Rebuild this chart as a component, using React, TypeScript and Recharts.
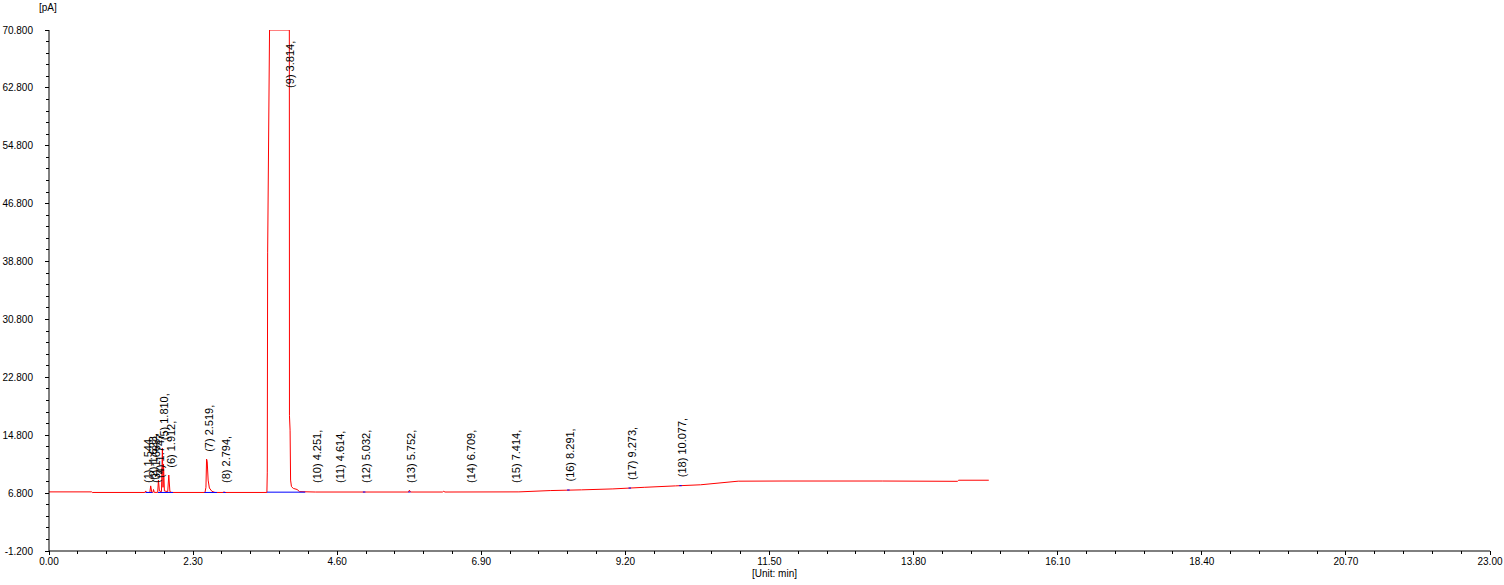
import { ComposedChart, Line, Scatter, XAxis, YAxis } from "recharts"

const FONT = "'Liberation Sans', Arial, sans-serif"

// axis ticks (labelled ones); minor ticks split each gap in 5
const xMajorTicks = [0, 2.3, 4.6, 6.9, 9.2, 11.5, 13.8, 16.1, 18.4, 20.7, 23]
const yMajorTicks = [-1.2, 6.8, 14.8, 22.8, 30.8, 38.8, 46.8, 54.8, 62.8, 70.8]

// detector signal, [time min, pA]
const trace: [number, number][] = [
  [0, 6.97], [0.68, 6.97], [0.69, 6.89],
  [1.53, 6.89], [1.544, 7.1], [1.555, 6.89],
  [1.61, 6.89], [1.623, 7.8], [1.64, 6.95], [1.65, 6.89],
  [1.66, 6.89], [1.668, 7.3], [1.68, 6.9],
  [1.735, 6.9], [1.747, 8.6], [1.762, 7.1], [1.795, 7.0], [1.81, 13.0], [1.82, 7.6],
  [1.828, 10.8], [1.842, 7.1], [1.895, 7.0], [1.912, 9.3], [1.93, 7.0], [1.96, 6.89],
  [2.49, 6.89], [2.505, 7.6], [2.515, 11.5], [2.525, 11.2], [2.54, 8.6], [2.56, 7.5],
  [2.6, 7.05], [2.65, 6.89],
  [2.785, 6.89], [2.794, 7.0], [2.805, 6.89],
  [3.478, 6.89], [3.484, 9.6], [3.49, 40.0], [3.52, 70.8], [3.836, 70.8], [3.838, 17.5],
  [3.848, 15.5], [3.856, 8.6], [3.87, 7.7], [3.9, 7.45], [3.96, 7.3], [4.0, 7.0],
  [4.25, 6.95], [5.03, 6.95], [5.74, 6.95], [5.752, 7.2], [5.77, 6.95],
  [6.28, 6.95], [6.3, 7.05], [6.32, 6.95],
  [7.5, 6.97], [8.0, 7.15], [8.5, 7.25], [9.0, 7.38], [9.5, 7.6], [10.0, 7.8],
  [10.4, 7.95], [11.0, 8.45], [11.7, 8.47], [13.3, 8.47], [14.5, 8.43], [14.52, 8.58], [15.0, 8.58],
]

// integration baselines, [start, end, pA]
const baselines: [number, number, number][] = [
  [1.54, 1.65, 6.89],
  [1.74, 1.98, 6.89],
  [2.48, 2.68, 6.89],
  [2.78, 2.82, 6.89],
  [3.48, 4.09, 6.93],
  [5.01, 5.05, 6.95],
  [5.735, 5.77, 6.95],
  [8.27, 8.31, 7.23],
  [9.25, 9.29, 7.5],
  [10.06, 10.1, 7.83],
]

// peak annotations
const peakTimes = [1.544, 1.623, 1.668, 1.747, 1.81, 1.912, 2.519, 2.794, 3.814, 4.251, 4.614, 5.032, 5.752, 6.709, 7.414, 8.291, 9.273, 10.077]
const peakLabelAt = [8.2, 8.6, 8.2, 8.9, 14.1, 10.3, 12.5, 8.2, 62.8, 8.2, 8.2, 8.2, 8.2, 8.2, 8.2, 8.4, 8.6, 9.0]

const subdivide = (major: number[], n: number) => {
  const out: number[] = [major[0]]
  for (let i = 1; i < major.length; i++) {
    const prev = major[i - 1]
    for (let k = 1; k <= n; k++) out.push(+(prev + ((major[i] - prev) * k) / n).toFixed(4))
  }
  return out
}
const isMajor = (list: number[], v: number) => list.some((m) => Math.abs(m - v) < 1e-6)

const xTicks = subdivide(xMajorTicks, 5)
const yTicks = subdivide(yMajorTicks, 5)

const traceData = trace.map(([t, v]) => ({ t, v }))
const baselineData = baselines.flatMap(([a, b, v]) => [
  { t: a, v },
  { t: b, v },
  { t: b + 0.001, v: null },
])
const labelData = peakTimes.map((t, i) => ({
  t,
  v: peakLabelAt[i],
  text: `(${i + 1}) ${t.toFixed(3)},`,
}))

const Y_TICK = 4
const Y_MARGIN = 12
const X_TICK = 4
const X_MARGIN = 3

const YTick = ({ x, y, payload }: any) => {
  const major = isMajor(yMajorTicks, payload.value)
  const ax = x + Y_TICK + Y_MARGIN
  return (
    <g>
      <line x1={ax - (major ? 4 : 3)} x2={ax} y1={y} y2={y} stroke="#000" shapeRendering="crispEdges" />
      {major && (
        <text x={x} y={y} dy="0.355em" textAnchor="end" fontSize={10} fontFamily={FONT} fill="#000">
          {payload.value.toFixed(3)}
        </text>
      )}
    </g>
  )
}

const XTick = ({ x, y, payload }: any) => {
  const major = isMajor(xMajorTicks, payload.value)
  const ay = y - X_TICK - X_MARGIN
  return (
    <g>
      <line x1={x} x2={x} y1={ay} y2={ay + (major ? 4 : 3)} stroke="#000" shapeRendering="crispEdges" />
      {major && (
        <text x={x} y={y} dy="0.71em" textAnchor="middle" fontSize={10} fontFamily={FONT} fill="#000">
          {payload.value.toFixed(2)}
        </text>
      )}
    </g>
  )
}

const PeakLabel = (p: any) => (
  <text
    transform={`translate(${p.cx + 2}, ${p.cy}) rotate(-90)`}
    dominantBaseline="central"
    fontSize={11}
    fontFamily={FONT}
    fill="#000"
  >
    {p.payload.text}
  </text>
)

export default function App() {
  return (
    <div
      style={{
        position: "absolute",
        left: 0,
        top: 0,
        width: 1504,
        height: 585,
        overflow: "hidden",
        background: "#fff",
        fontFamily: FONT,
      }}
    >
      <ComposedChart width={1504} height={585} margin={{ top: 30, right: 14, bottom: 4, left: 0 }}>
        <XAxis
          dataKey="t"
          type="number"
          domain={[0, 23]}
          ticks={xTicks}
          interval={0}
          tickSize={X_TICK}
          tickMargin={X_MARGIN}
          tickLine={false}
          tick={<XTick />}
          axisLine={{ stroke: "#000" }}
          height={30}
          allowDataOverflow
        />
        <YAxis
          type="number"
          domain={[-1.2, 70.8]}
          ticks={yTicks}
          interval={0}
          tickSize={Y_TICK}
          tickMargin={Y_MARGIN}
          tickLine={false}
          tick={<YTick />}
          axisLine={{ stroke: "#000" }}
          width={49}
          allowDataOverflow
        />
        <Line
          data={traceData}
          dataKey="v"
          type="linear"
          stroke="#ff0000"
          strokeWidth={1}
          dot={false}
          activeDot={false}
          isAnimationActive={false}
        />
        <Line
          data={baselineData}
          dataKey="v"
          type="linear"
          stroke="#0000ff"
          strokeWidth={1}
          dot={false}
          activeDot={false}
          connectNulls={false}
          isAnimationActive={false}
        />
        <Scatter data={labelData} dataKey="v" shape={PeakLabel} isAnimationActive={false} />
      </ComposedChart>
      <div style={{ position: "absolute", left: 39, top: 2, fontSize: 10, lineHeight: "12px" }}>[pA]</div>
      <div style={{ position: "absolute", left: 752, top: 568, fontSize: 10, lineHeight: "12px" }}>
        [Unit: min]
      </div>
    </div>
  )
}
